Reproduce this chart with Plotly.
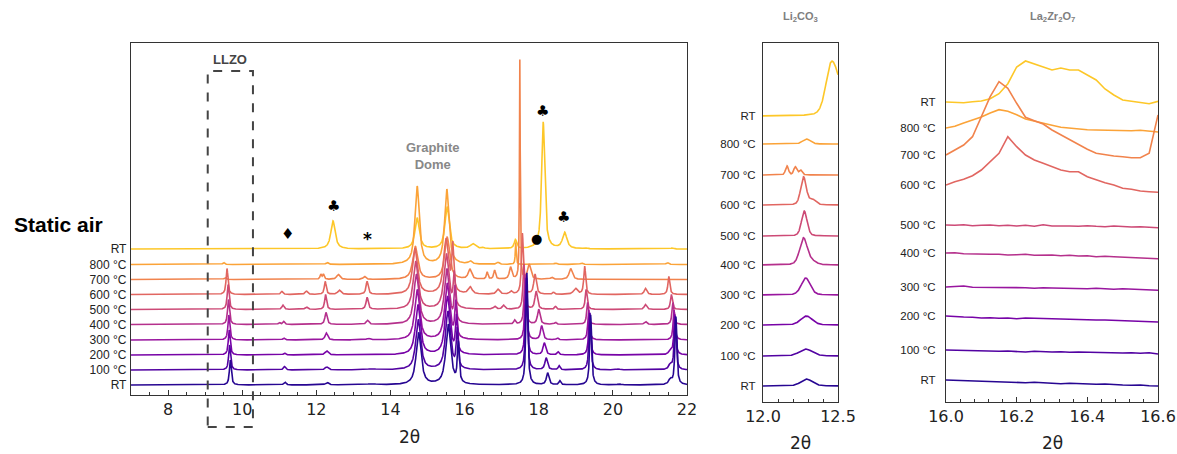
import numpy as np
import plotly.graph_objects as go
from plotly.colors import sample_colorscale

W, H = 1177, 454

# scans from bottom (RT, as made) to top (RT, after cooling)
scan_labels = ["RT", "100 °C", "200 °C", "300 °C", "400 °C", "500 °C",
               "600 °C", "700 °C", "800 °C", "RT"]
scan_colors = sample_colorscale("Plasma", list(np.linspace(0.05, 0.88, 10)))

# ---- main panel: peak lists (2θ, height, half-width), one list per scan ----
peaks_rt_start = [(9.68, 25, 0.03), (11.15, 3, 0.035), (12.29, 2.5, 0.05), (13.5, 1, 0.15),
                  (14.76, 52, 0.08), (15.56, 60, 0.08), (15.83, 40, 0.03), (17.68, 112, 0.03),
                  (18.24, 12, 0.04), (18.57, 4, 0.03), (19.40, 70, 0.03), (20.17, 1, 0.05),
                  (21.55, 5, 0.05), (21.70, 68, 0.03)]
peaks_100 = [(9.66, 25, 0.03), (11.14, 3.5, 0.035), (12.28, 3, 0.05), (13.5, 1, 0.15),
             (14.75, 50, 0.08), (15.55, 58, 0.08), (15.80, 38, 0.03), (17.67, 92, 0.03),
             (18.20, 12, 0.04), (18.55, 4, 0.03), (19.38, 57, 0.03), (20.15, 1, 0.05),
             (21.55, 5, 0.05), (21.68, 53, 0.03)]
peaks_200 = [(9.65, 25, 0.03), (11.14, 2, 0.035), (12.28, 4, 0.05), (14.74, 50, 0.08),
             (15.54, 58, 0.08), (15.78, 36, 0.03), (17.66, 75, 0.03), (18.15, 12, 0.04),
             (18.52, 3, 0.03), (19.37, 42, 0.03), (21.55, 4, 0.05), (21.67, 40, 0.03)]
peaks_300 = [(9.64, 25, 0.03), (11.12, 2, 0.035), (12.27, 7, 0.04), (13.40, 1.5, 0.05),
             (14.72, 50, 0.08), (15.53, 56, 0.08), (15.76, 35, 0.03), (17.65, 62, 0.03),
             (18.08, 14, 0.04), (18.50, 2, 0.03), (19.35, 30, 0.03), (21.65, 30, 0.03)]
peaks_400 = [(9.63, 25, 0.03), (11.00, 2, 0.03), (11.12, 3, 0.03), (12.26, 12, 0.035),
             (13.38, 4, 0.04), (14.70, 50, 0.08), (15.52, 55, 0.08), (15.74, 34, 0.03),
             (17.35, 4, 0.03), (17.63, 50, 0.03), (18.00, 15, 0.04), (18.45, 2, 0.03),
             (19.32, 22, 0.03), (20.88, 3, 0.04), (21.62, 22, 0.03)]
peaks_500 = [(9.62, 25, 0.03), (11.10, 4.3, 0.035), (11.73, 2.5, 0.04), (12.25, 15, 0.03),
             (13.37, 12, 0.035), (14.68, 48, 0.08), (15.51, 55, 0.08), (15.72, 33, 0.03),
             (16.81, 3, 0.04), (17.05, 4, 0.04), (17.60, 45, 0.03), (17.93, 18, 0.04),
             (18.45, 3, 0.03), (19.28, 20, 0.03), (20.88, 5, 0.04), (21.58, 15, 0.03)]
peaks_600 = [(9.59, 26, 0.03), (11.07, 3, 0.035), (11.73, 3.3, 0.04), (12.24, 13, 0.03),
             (12.62, 4.3, 0.05), (13.37, 13, 0.035), (14.66, 46, 0.08), (15.50, 55, 0.08),
             (15.68, 45, 0.03), (16.15, 7, 0.06), (16.90, 5, 0.05), (17.25, 3, 0.04),
             (17.56, 61, 0.03), (17.90, 20, 0.04), (18.40, 2, 0.03), (18.99, 6, 0.06),
             (19.24, 28, 0.03), (20.88, 6, 0.04), (21.51, 18, 0.03)]
peaks_700 = [(9.54, 2, 0.03), (12.12, 5, 0.025), (12.19, 5, 0.025), (12.59, 5, 0.05),
             (13.30, 3, 0.04), (14.67, 33, 0.08), (15.53, 42, 0.08), (16.14, 10, 0.05),
             (16.61, 7, 0.025), (16.81, 9, 0.03), (17.24, 12, 0.04), (17.49, 219, 0.012),
             (17.74, 15, 0.05), (18.35, 2, 0.04), (18.86, 11, 0.05)]
peaks_800 = [(9.50, 2, 0.03), (12.29, 2, 0.04), (14.72, 78, 0.07), (15.52, 75, 0.07),
             (16.15, 3, 0.05), (16.90, 2, 0.04), (17.38, 22, 0.015), (18.45, 1.5, 0.04),
             (19.15, 1.5, 0.04), (21.47, 2, 0.04)]
peaks_rt_end = [(12.45, 28, 0.07), (14.72, 31, 0.07), (15.53, 42, 0.07), (16.22, 5, 0.08),
                (16.50, 1, 0.05), (17.37, 9, 0.04), (18.12, 127, 0.05), (18.70, 16, 0.07),
                (19.25, 1, 0.04), (21.60, 1, 0.04)]
main_peaks = [peaks_rt_start, peaks_100, peaks_200, peaks_300, peaks_400,
              peaks_500, peaks_600, peaks_700, peaks_800, peaks_rt_end]
main_offsets = [0, 15, 30, 45, 60.5, 75.5, 90.5, 105.5, 120.5, 136]

# ---- Li2CO3 window (12.0-12.5°): peak lists per scan ----
li_peaks = [
    [(12.29, 7, 0.045)],
    [(12.285, 7, 0.05)],
    [(12.29, 9, 0.045)],
    [(12.285, 17, 0.035)],
    [(12.27, 27, 0.03), (12.33, 3, 0.03)],
    [(12.275, 25, 0.022)],
    [(12.27, 28, 0.022), (12.33, 5, 0.025)],
    [(12.16, 9, 0.012), (12.215, 8, 0.012), (12.25, 5, 0.012)],
    [(12.29, 5, 0.03)],
    [(12.45, 44, 0.041), (12.50, 25, 0.041)],
]
li_offsets = [16, 46, 77, 107, 137, 166, 197, 227, 258, 286]

# ---- La2Zr2O7 window (16.0-16.6°): intensity read every 0.025° ----
lz_two_theta = [16.0 + 0.025 * k for k in range(25)]
lz_rt_start = [0, -0.3, -0.7, -1, -1.3, -1, -2, -1.7, -2, -2.7, -2.3, -3, -3, -3.7, -3.3,
               -3.7, -4, -4.3, -4, -4.7, -5, -5.3, -5, -5.7, -6]
lz_100 = [0, -0.3, -0.7, -0.3, -1, -1.3, -1.3, -1, -1.7, -2, -1.3, -1.7, -2, -1.7, -2.3,
          -2, -2.3, -2.7, -2.7, -3, -3, -2.7, -3.3, -2.7, -4]
lz_200 = [0, -0.7, -1, -1.3, -2, -1.7, -2.3, -2, -2.7, -2, -2.3, -2.7, -3, -3.3, -3,
          -3.3, -3.7, -4, -4, -4.3, -4.7, -5, -5, -5.3, -6]
lz_300 = [0, 0.3, 1, -0.3, -0.3, -0.7, -0.3, -1, -0.7, -0.7, -1.3, -0.7, -1, -1.3, -1,
          -1.3, -1.7, -1.3, -2, -2.3, -1.7, -2, -2.7, -2.3, -3.3]
lz_400 = [0, 0.3, -0.7, -1, -1.7, -1.3, -1.3, -2, -1.7, -1.3, -2.3, -2, -2, -2.7, -2.3,
          -3, -2.7, -3.7, -3.3, -3.7, -4, -4.3, -4.7, -4.7, -5.7]
lz_500 = [0, -0.3, 0.3, -0.7, -0.3, 0, -0.7, -0.3, -1, -0.3, -1.3, 0.3, -1, -0.7, -1,
          -1.3, -0.7, -1.3, -1.7, -1, -1.7, -2, -1.7, -2.3, -2.7]
lz_600 = [0, 3.3, 5.7, 9.3, 15, 23.3, 31.7, 48.3, 38.3, 30, 25, 21.7, 18.3, 15, 13.3,
          13.3, 8.3, 5, 2.3, 0, -3.3, -4.3, -6, -6.7, -7.3]
lz_700 = [0, 5, 10, 18.3, 38.3, 58.3, 73.3, 66.7, 51.7, 37.7, 34.3, 31, 25, 20, 15,
          10, 5.7, 1.7, 0, -1, -1.7, -2.7, -2.7, 1.7, 40]
lz_800 = [0, 1.7, 5, 7.7, 11, 15, 18.3, 16.7, 13.3, 9, 6.7, 4.3, 2.7, 0.7, -0.3,
          -1, -1.7, -2, -2.3, -2.3, -2.7, -2.7, -2.3, -3.3, -4]
lz_rt_end = [0, 0, -0.7, 0.3, 1, 3.3, 8.3, 18.3, 35, 41, 38, 35, 32, 34, 32,
             32, 27, 22, 13, 7, 2, 0.7, 0, -1.7, 0.7]
lz_scans = [lz_rt_start, lz_100, lz_200, lz_300, lz_400, lz_500, lz_600, lz_700, lz_800, lz_rt_end]
lz_offsets = [22, 52, 86, 115, 149, 177, 217, 247, 274, 300]

# annotation marks on the final RT scan (2θ, height)
mark_symbols = ["♦", "♣", "*", "●", "♣", "♣"]
mark_two_theta = [11.22, 12.46, 13.38, 17.95, 18.11, 18.68]
mark_height = [151, 179, 146, 146, 274, 168]
llzo_window = [9.07, 10.29]


def profile(x, peaks, eta):
    """Pseudo-Voigt sum of the listed reflections."""
    y = np.zeros_like(x)
    for pos, h, w in peaks:
        d = (x - pos) / w
        y += h * (eta / (1 + d * d) + (1 - eta) * np.exp(-np.log(2) * d * d))
    return y


x_main = np.linspace(7, 22, 6001)
x_li = np.linspace(12.0, 12.5, 501)

fig = go.Figure()
for i in reversed(range(10)):
    fig.add_trace(go.Scatter(x=x_main, y=main_offsets[i] + profile(x_main, main_peaks[i], 0.85),
                             mode="lines", line=dict(color=scan_colors[i], width=1.6),
                             xaxis="x", yaxis="y", hoverinfo="skip"))
for i in reversed(range(10)):
    fig.add_trace(go.Scatter(x=x_li, y=li_offsets[i] + profile(x_li, li_peaks[i], 0.3),
                             mode="lines", line=dict(color=scan_colors[i], width=1.6),
                             xaxis="x2", yaxis="y2", hoverinfo="skip"))
for i in reversed(range(10)):
    fig.add_trace(go.Scatter(x=lz_two_theta, y=[lz_offsets[i] + v for v in lz_scans[i]],
                             mode="lines", line=dict(color=scan_colors[i], width=1.6),
                             xaxis="x3", yaxis="y3", hoverinfo="skip"))

frame = dict(showline=True, linecolor="#333", linewidth=1.3, mirror=True,
             showgrid=False, zeroline=False, automargin=False)
num_font = dict(family="DejaVu Sans", size=16, color="#222")
lab_font = dict(family="Liberation Sans, Arial", size=12, color="#222")
side_lab_font = dict(family="Liberation Sans, Arial", size=11.5, color="#222")

main_dom = [131 / W, 687 / W]
fig.update_layout(
    width=W, height=H, margin=dict(l=0, r=0, t=0, b=0, autoexpand=False),
    paper_bgcolor="white", plot_bgcolor="white", showlegend=False,
    xaxis=dict(domain=main_dom, range=[7, 22], tickvals=list(range(8, 23, 2)),
               ticks="inside", ticklen=5, tickwidth=1.2, tickcolor="#333",
               minor=dict(dtick=0.5, tick0=7, ticks="inside", ticklen=3, tickwidth=1, tickcolor="#333"),
               tickfont=num_font, anchor="y", **frame),
    yaxis=dict(domain=[1 - 395 / H, 1 - 43 / H], range=[-10, 342], tickvals=main_offsets,
               ticktext=scan_labels, ticks="", tickfont=lab_font, ticklabelstandoff=1,
               anchor="x", **frame),
    xaxis2=dict(domain=[763 / W, 838 / W], range=[12.0, 12.5], tickvals=[12.0, 12.5],
                tickformat=".1f", ticks="inside", ticklen=5, tickwidth=1.2, tickcolor="#333",
                minor=dict(dtick=0.1, tick0=12, ticks="inside", ticklen=3, tickwidth=1, tickcolor="#333"),
                tickfont=num_font, anchor="y2", **frame),
    yaxis2=dict(domain=[1 - 402 / H, 1 - 43 / H], range=[0, 359], tickvals=li_offsets,
                ticktext=scan_labels, ticks="", tickfont=side_lab_font,
                ticklabelstandoff=4, anchor="x2", **frame),
    xaxis3=dict(domain=[946 / W, 1158 / W], range=[16.0, 16.6], tickvals=[16.0, 16.2, 16.4, 16.6],
                tickformat=".1f", ticks="inside", ticklen=5, tickwidth=1.2, tickcolor="#333",
                minor=dict(dtick=0.04, tick0=16, ticks="inside", ticklen=3, tickwidth=1, tickcolor="#333"),
                tickfont=num_font, anchor="y3", **frame),
    yaxis3=dict(domain=[1 - 402 / H, 1 - 43 / H], range=[0, 359], tickvals=lz_offsets,
                ticktext=scan_labels, ticks="", tickfont=side_lab_font,
                ticklabelstandoff=7, anchor="x3", **frame),
)


def px_to_paper_x(px):
    return px / W


def px_to_paper_y(py):
    return 1 - py / H


def main_x_paper(theta):
    return main_dom[0] + (theta - 7) / 15 * (main_dom[1] - main_dom[0])


# LLZO reflection window
fig.add_shape(type="rect", xref="paper", yref="paper",
              x0=main_x_paper(llzo_window[0]), x1=main_x_paper(llzo_window[1]),
              y0=px_to_paper_y(427), y1=px_to_paper_y(71),
              line=dict(color="#444", width=2, dash="dash"), layer="above")

ann = []
ann.append(dict(text="<b>Static air</b>", x=px_to_paper_x(12), y=px_to_paper_y(225),
                xanchor="left", yanchor="middle",
                font=dict(family="Liberation Sans, Arial", size=21, color="black")))
ann.append(dict(text="<b>LLZO</b>", x=(main_x_paper(llzo_window[0]) + main_x_paper(llzo_window[1])) / 2,
                y=px_to_paper_y(59), xanchor="center", yanchor="middle",
                font=dict(family="Liberation Sans, Arial", size=13, color="#444")))
ann.append(dict(text="<b>Graphite<br>Dome</b>", x=px_to_paper_x(432), y=px_to_paper_y(156),
                xanchor="center", yanchor="middle",
                font=dict(family="Liberation Sans, Arial", size=13, color="#888")))
ann.append(dict(text="<b>Li<sub>2</sub>CO<sub>3</sub></b>", x=px_to_paper_x(800), y=px_to_paper_y(17),
                xanchor="center", yanchor="middle",
                font=dict(family="Liberation Sans, Arial", size=11, color="#808080")))
ann.append(dict(text="<b>La<sub>2</sub>Zr<sub>2</sub>O<sub>7</sub></b>", x=px_to_paper_x(1052),
                y=px_to_paper_y(17), xanchor="center", yanchor="middle",
                font=dict(family="Liberation Sans, Arial", size=11, color="#808080")))
for cx, cy in [(409, 437), (800, 443), (1052, 443)]:
    ann.append(dict(text="2θ", x=px_to_paper_x(cx), y=px_to_paper_y(cy),
                    xanchor="center", yanchor="middle",
                    font=dict(family="DejaVu Sans", size=17, color="#222")))
for i in range(len(ann)):
    ann[i].update(xref="paper", yref="paper", showarrow=False)

for s, tx, ty in zip(mark_symbols, mark_two_theta, mark_height):
    size = 13 if s == "●" else (17 if s == "*" else 15)
    ann.append(dict(text=s if s != "*" else "<b>*</b>", x=tx, y=ty, xref="x", yref="y",
                    showarrow=False, xanchor="center", yanchor="middle",
                    font=dict(family="DejaVu Sans", size=size, color="black")))

fig.update_layout(annotations=ann)
fig.write_html("out.html")
